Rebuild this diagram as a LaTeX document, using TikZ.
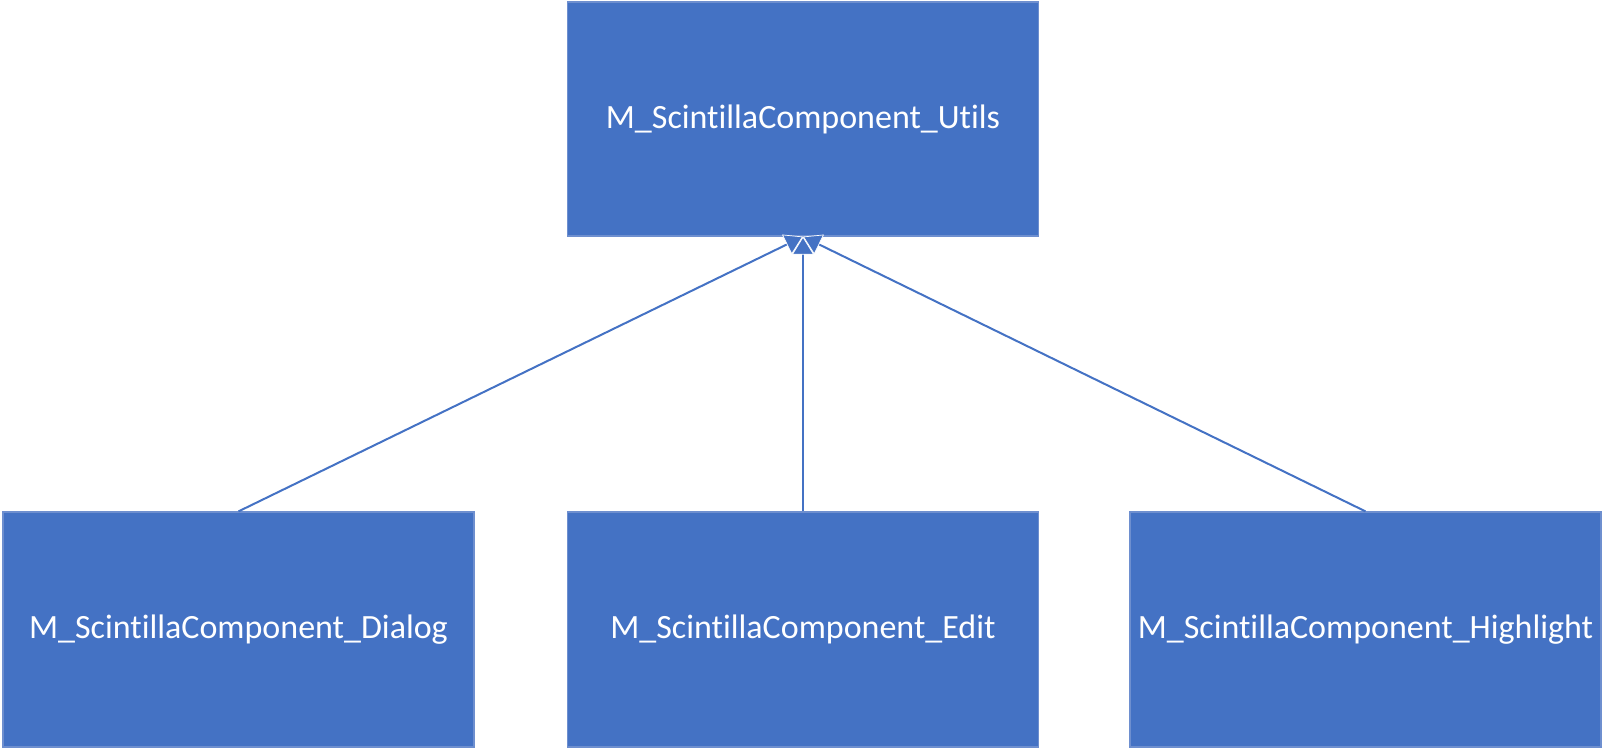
\documentclass[tikz,border=0pt]{standalone}
\usepackage{fontspec}
\setmainfont[Ligatures=NoCommon]{Carlito}
\usetikzlibrary{arrows.meta}
\definecolor{boxblue}{HTML}{4472C4}
\definecolor{edgeblue}{HTML}{6E8FCF}
\tikzset{
  modbox/.style={rectangle, fill=boxblue, draw=edgeblue, line width=0.6pt, inner sep=0pt,
    minimum width=235.5pt, minimum height=117.5pt, text=white, font=\fontsize{17pt}{20pt}\selectfont},
  inherit/.style={draw=boxblue, line width=1pt, -{Triangle[length=9pt, width=11pt, color=white, fill=boxblue, line width=0.35pt]}}
}
\begin{document}
\begin{tikzpicture}[x=0.5pt, y=-0.5pt]
\useasboundingbox (0,0) rectangle (1608,748);
\node[modbox, minimum height=117pt] (utils) at (803,119) {M\_ScintillaComponent\_Utils};
\node[modbox] (dialog) at (238.5,629.5) {M\_ScintillaComponent\_Dialog};
\node[modbox] (edit) at (803,629.5) {M\_ScintillaComponent\_Edit};
\node[modbox] (highlight) at (1365.5,629.5) {M\_ScintillaComponent\_Highlight};
\draw[inherit] (dialog.north) -- (utils.south);
\draw[inherit] (highlight.north) -- (utils.south);
\draw[inherit] (edit.north) -- (utils.south);
\end{tikzpicture}
\end{document}
